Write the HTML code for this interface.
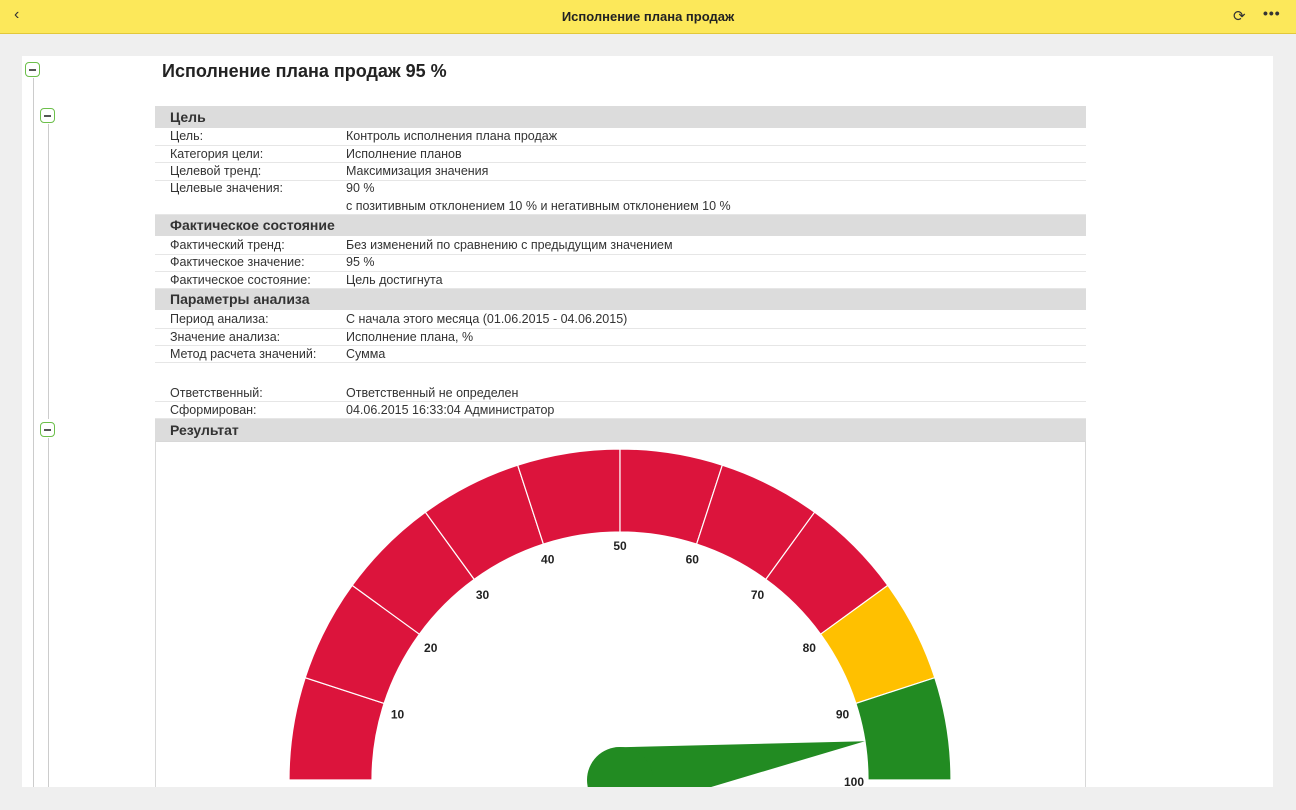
<!DOCTYPE html><html><head><meta charset="utf-8"><style>
body{margin:0;width:1296px;height:810px;background:#efefef;font-family:"Segoe UI","Liberation Sans","DejaVu Sans",sans-serif;position:relative;overflow:hidden}
.top{position:absolute;left:0;top:0;width:1296px;height:33px;background:#fce85a;border-bottom:1px solid #e2c83a}
.title{position:absolute;left:0;width:1296px;top:9px;text-align:center;font-size:13px;font-weight:bold;color:#222}
.panel{position:absolute;left:22px;top:56px;width:1251px;height:754px;background:#fff}
.t{position:absolute;font-size:12.5px;color:#333;white-space:nowrap;line-height:17px}
.h{position:absolute;left:155px;width:931px;height:22px;background:#dcdcdc;font-weight:bold;font-size:14px;color:#333;line-height:22px;text-indent:15px}
.sep{position:absolute;left:155px;width:931px;height:1px;background:#e6e6e6}
.ic{position:absolute;width:13px;height:13px;border:1.5px solid #6cbf4a;border-radius:4px;background:#fff}
.ic:after{content:"";position:absolute;left:3px;right:3px;top:6px;height:1.5px;background:#555}
.vl{position:absolute;width:1px;background:#ccc}
</style></head><body>
<div class="top"><div style="position:absolute;left:14px;top:6px;font-size:16px;color:#333">&#8249;</div><div class="title">Исполнение плана продаж</div>
<div style="position:absolute;left:1233px;top:7px;font-size:15px;color:#333">&#10227;</div>
<div style="position:absolute;left:1263px;top:5px;font-size:14px;color:#333;letter-spacing:1px;font-weight:bold">•••</div></div>
<div class="panel"></div>
<div class="vl" style="left:33px;top:78px;height:732px"></div>
<div class="vl" style="left:48px;top:124px;height:295px"></div>
<div class="vl" style="left:48px;top:438px;height:372px"></div>
<div class="ic" style="left:25px;top:62px"></div>
<div class="ic" style="left:40px;top:108px"></div>
<div class="ic" style="left:40px;top:422px"></div>
<div class="t" style="left:162px;top:58px;font-size:18px;font-weight:bold;line-height:26px;color:#222">Исполнение плана продаж 95 %</div>
<div class="h" style="top:106px">Цель</div>
<div class="h" style="top:214px">Фактическое состояние</div>
<div class="h" style="top:288px">Параметры анализа</div>
<div class="h" style="top:419px">Результат</div>
<div class="sep" style="top:145px"></div><div class="sep" style="top:162px"></div><div class="sep" style="top:180px"></div><div class="sep" style="top:214px"></div>
<div class="sep" style="top:254px"></div><div class="sep" style="top:271px"></div><div class="sep" style="top:288px"></div>
<div class="sep" style="top:328px"></div><div class="sep" style="top:345px"></div><div class="sep" style="top:362px"></div>
<div class="sep" style="top:401px"></div><div class="sep" style="top:418px"></div>
<div class="t" style="left:170px;top:128px">Цель:</div><div class="t" style="left:346px;top:128px">Контроль исполнения плана продаж</div>
<div class="t" style="left:170px;top:146px">Категория цели:</div><div class="t" style="left:346px;top:146px">Исполнение планов</div>
<div class="t" style="left:170px;top:163px">Целевой тренд:</div><div class="t" style="left:346px;top:163px">Максимизация значения</div>
<div class="t" style="left:170px;top:180px">Целевые значения:</div><div class="t" style="left:346px;top:180px">90 %</div>
<div class="t" style="left:346px;top:198px">с позитивным отклонением 10 % и негативным отклонением 10 %</div>
<div class="t" style="left:170px;top:237px">Фактический тренд:</div><div class="t" style="left:346px;top:237px">Без изменений по сравнению с предыдущим значением</div>
<div class="t" style="left:170px;top:254px">Фактическое значение:</div><div class="t" style="left:346px;top:254px">95 %</div>
<div class="t" style="left:170px;top:272px">Фактическое состояние:</div><div class="t" style="left:346px;top:272px">Цель достигнута</div>
<div class="t" style="left:170px;top:311px">Период анализа:</div><div class="t" style="left:346px;top:311px">С начала этого месяца (01.06.2015 - 04.06.2015)</div>
<div class="t" style="left:170px;top:329px">Значение анализа:</div><div class="t" style="left:346px;top:329px">Исполнение плана, %</div>
<div class="t" style="left:170px;top:346px">Метод расчета значений:</div><div class="t" style="left:346px;top:346px">Сумма</div>
<div class="t" style="left:170px;top:385px">Ответственный:</div><div class="t" style="left:346px;top:385px">Ответственный не определен</div>
<div class="t" style="left:170px;top:402px">Сформирован:</div><div class="t" style="left:346px;top:402px">04.06.2015 16:33:04 Администратор</div>
<svg style="position:absolute;left:0;top:0" width="1296" height="787" viewBox="0 0 1296 787">
<rect x="155.5" y="441.5" width="930" height="360" fill="none" stroke="#d8d8d8"/>
<g id="g"></g>
</svg>
<script>
var cx=620,cy=780,R=331,r=248,s='';
function p(rr,a){return (cx+rr*Math.cos(a)).toFixed(1)+','+(cy-rr*Math.sin(a)).toFixed(1)}
for(var i=0;i<10;i++){var a1=Math.PI*(1-i/10),a2=Math.PI*(1-(i+1)/10);
var c=i<8?'#dc143c':(i==8?'#ffc000':'#228b22');
s+='<path d="M'+p(R,a1)+' A'+R+','+R+' 0 0 1 '+p(R,a2)+' L'+p(r,a2)+' A'+r+','+r+' 0 0 0 '+p(r,a1)+'Z" fill="'+c+'" stroke="#fff" stroke-width="1.2"/>';
var la=Math.PI*(1-(i+1)/10);
var dy=4+(i==9?2:7*Math.abs(Math.cos(la)));
s+='<text x="'+(cx+234*Math.cos(la)).toFixed(1)+'" y="'+(cy-234*Math.sin(la)+dy).toFixed(1)+'" font-size="12" font-weight="bold" fill="#222" text-anchor="middle" font-family="Liberation Sans,sans-serif">'+((i+1)*10)+'</text>';}
var na=Math.PI*0.05,tx=cx+248*Math.cos(na),ty=cy-248*Math.sin(na),rb=33;
function q(a){return (cx+rb*Math.cos(a)).toFixed(1)+','+(cy-rb*Math.sin(a)).toFixed(1)}
s+='<path d="M'+q(na+Math.PI/2)+' L'+tx.toFixed(1)+','+ty.toFixed(1)+' L'+q(na-Math.PI/2)+'Z" fill="#228b22"/><circle cx="'+cx+'" cy="'+cy+'" r="'+rb+'" fill="#228b22"/>';
document.getElementById('g').innerHTML=s;
</script>
<div style="position:absolute;left:0;top:787px;width:1296px;height:23px;background:#efefef"></div>
</body></html>
